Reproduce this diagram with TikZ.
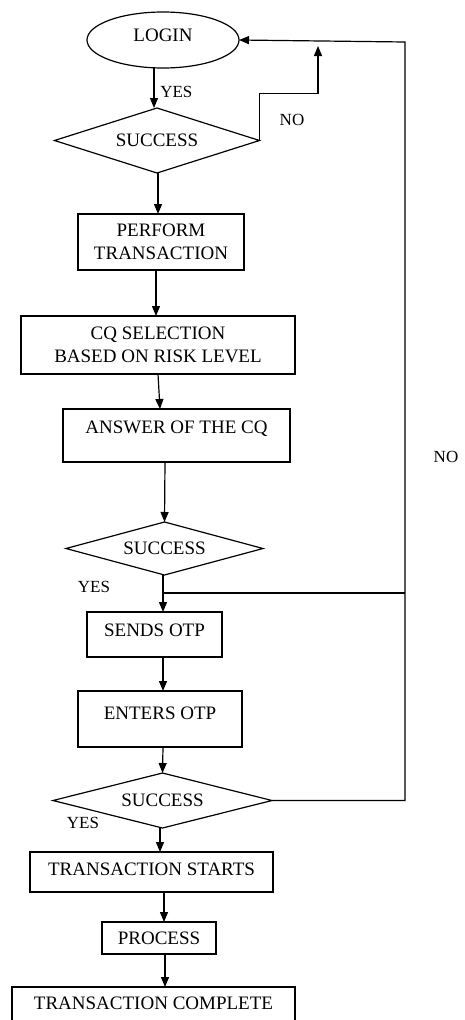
\documentclass[tikz,border=0pt]{standalone}
\usepackage{fontspec}
\setmainfont{Liberation Serif}
\usetikzlibrary{positioning, arrows.meta, shapes.geometric}

\begin{document}
\begin{tikzpicture}[x=1pt, y=-1pt,
    every node/.style={font=\fontsize{19}{23}\selectfont, outer sep=0pt},
    box/.style={rectangle, draw, line width=1.2pt, inner sep=0pt, align=center},
    decision/.style={diamond, draw, line width=1.2pt, inner sep=0pt, aspect=3},
    lbl/.style={font=\fontsize{17}{20}\selectfont},
    arr/.style={-{Triangle[length=10pt, width=8pt]}, line width=1.2pt}]
        \useasboundingbox (0,0) rectangle (465,1020);
        \node[ellipse, draw, line width=1.2pt, inner sep=0pt, minimum width=152pt, minimum height=56pt, text depth=10pt] (login) at (163,40) {LOGIN};
        \node[decision, minimum width=205pt, minimum height=65pt, below=40pt of login, xshift=-6pt] (suc1) {SUCCESS};
        \node[box, minimum width=166pt, minimum height=56pt, below=41pt of suc1, xshift=4pt] (perform) {PERFORM\\TRANSACTION};
        \node[box, minimum width=274pt, minimum height=58pt, below=46pt of perform, xshift=-3pt] (cqsel) {CQ SELECTION\\BASED ON RISK LEVEL};
        \node[box, minimum width=227pt, minimum height=53pt, below=35pt of cqsel, xshift=18.5pt, text depth=17pt] (answer) {ANSWER OF THE CQ};
        \node[decision, minimum width=197pt, minimum height=53pt, below=60pt of answer, xshift=-12pt] (suc2) {SUCCESS};
        \node[box, minimum width=135pt, minimum height=45pt, below=37pt of suc2, xshift=-10pt, text depth=9pt] (sendotp) {SENDS OTP};
        \node[box, minimum width=164pt, minimum height=56pt, below=34pt of sendotp, xshift=5.5pt, text depth=12pt] (enterotp) {ENTERS OTP};
        \node[decision, minimum width=219pt, minimum height=55pt, below=26pt of enterotp, xshift=2.5pt] (suc3) {SUCCESS};
        \node[box, minimum width=243pt, minimum height=40pt, below=24pt of suc3, xshift=-11pt, text depth=6pt] (tstart) {TRANSACTION STARTS};
        \node[box, minimum width=114pt, minimum height=32pt, below=30pt of tstart, xshift=7.5pt] (process) {PROCESS};
        \node[box, minimum width=283pt, minimum height=46pt, below=33pt of process, xshift=-5.5pt, text depth=14pt] (tcomplete) {TRANSACTION COMPLETE};
        % Labels
        \node[lbl] (no1) at (292,120) {NO};
        \node[lbl] (no2) at (446,457) {NO};
        \node[lbl] (yes2) at (94,587) {YES};
        \node[lbl] (yes3) at (83,823) {YES};
        % Return line points
        \coordinate (rtop) at (405,42);
        \coordinate (nojoin) at (318,46);
        \coordinate (yesjoin) at ([xshift=-1.5pt, yshift=-18pt]suc2.south);
        % Arrows down the flow
        \draw[arr] ([xshift=-9pt]login.south) -- node[lbl, right=3pt, pos=0.6] (yes1) {YES} ([xshift=-3pt]suc1.north);
        \draw[arr] ([xshift=1pt]suc1.south) -- ([xshift=-3pt]perform.north);
        \draw[arr] ([xshift=-5pt]perform.south) -- ([xshift=-2pt]cqsel.north);
        \draw[arr] (cqsel.south) -- ([xshift=-16.5pt]answer.north);
        \draw[arr] ([xshift=-11.5pt]answer.south) -- (suc2.north);
        \draw[arr] ([xshift=-1.5pt]suc2.south) -- ([xshift=8.5pt]sendotp.north);
        \draw[arr] ([xshift=8.5pt]sendotp.south) -- ([xshift=3pt]enterotp.north);
        \draw[arr] ([xshift=3pt]enterotp.south) -- (suc3.north);
        \draw[arr] ([xshift=-2.5pt]suc3.south) -- ([xshift=8.5pt]tstart.north);
        \draw[arr] ([xshift=12.5pt]tstart.south) -- ([xshift=5pt]process.north);
        \draw[arr] ([xshift=6pt]process.south) -- ([xshift=11.5pt]tcomplete.north);
        % Return lines
        \draw[arr] (suc1.east) -- ++(0,-47) -| (nojoin);
        \draw[arr] (suc3.east) -- (suc3.east -| rtop) -- (rtop) -- (login.east);
        \draw[line width=1.2pt] (yesjoin) -- (yesjoin -| rtop);
    \end{tikzpicture}
\end{document}
